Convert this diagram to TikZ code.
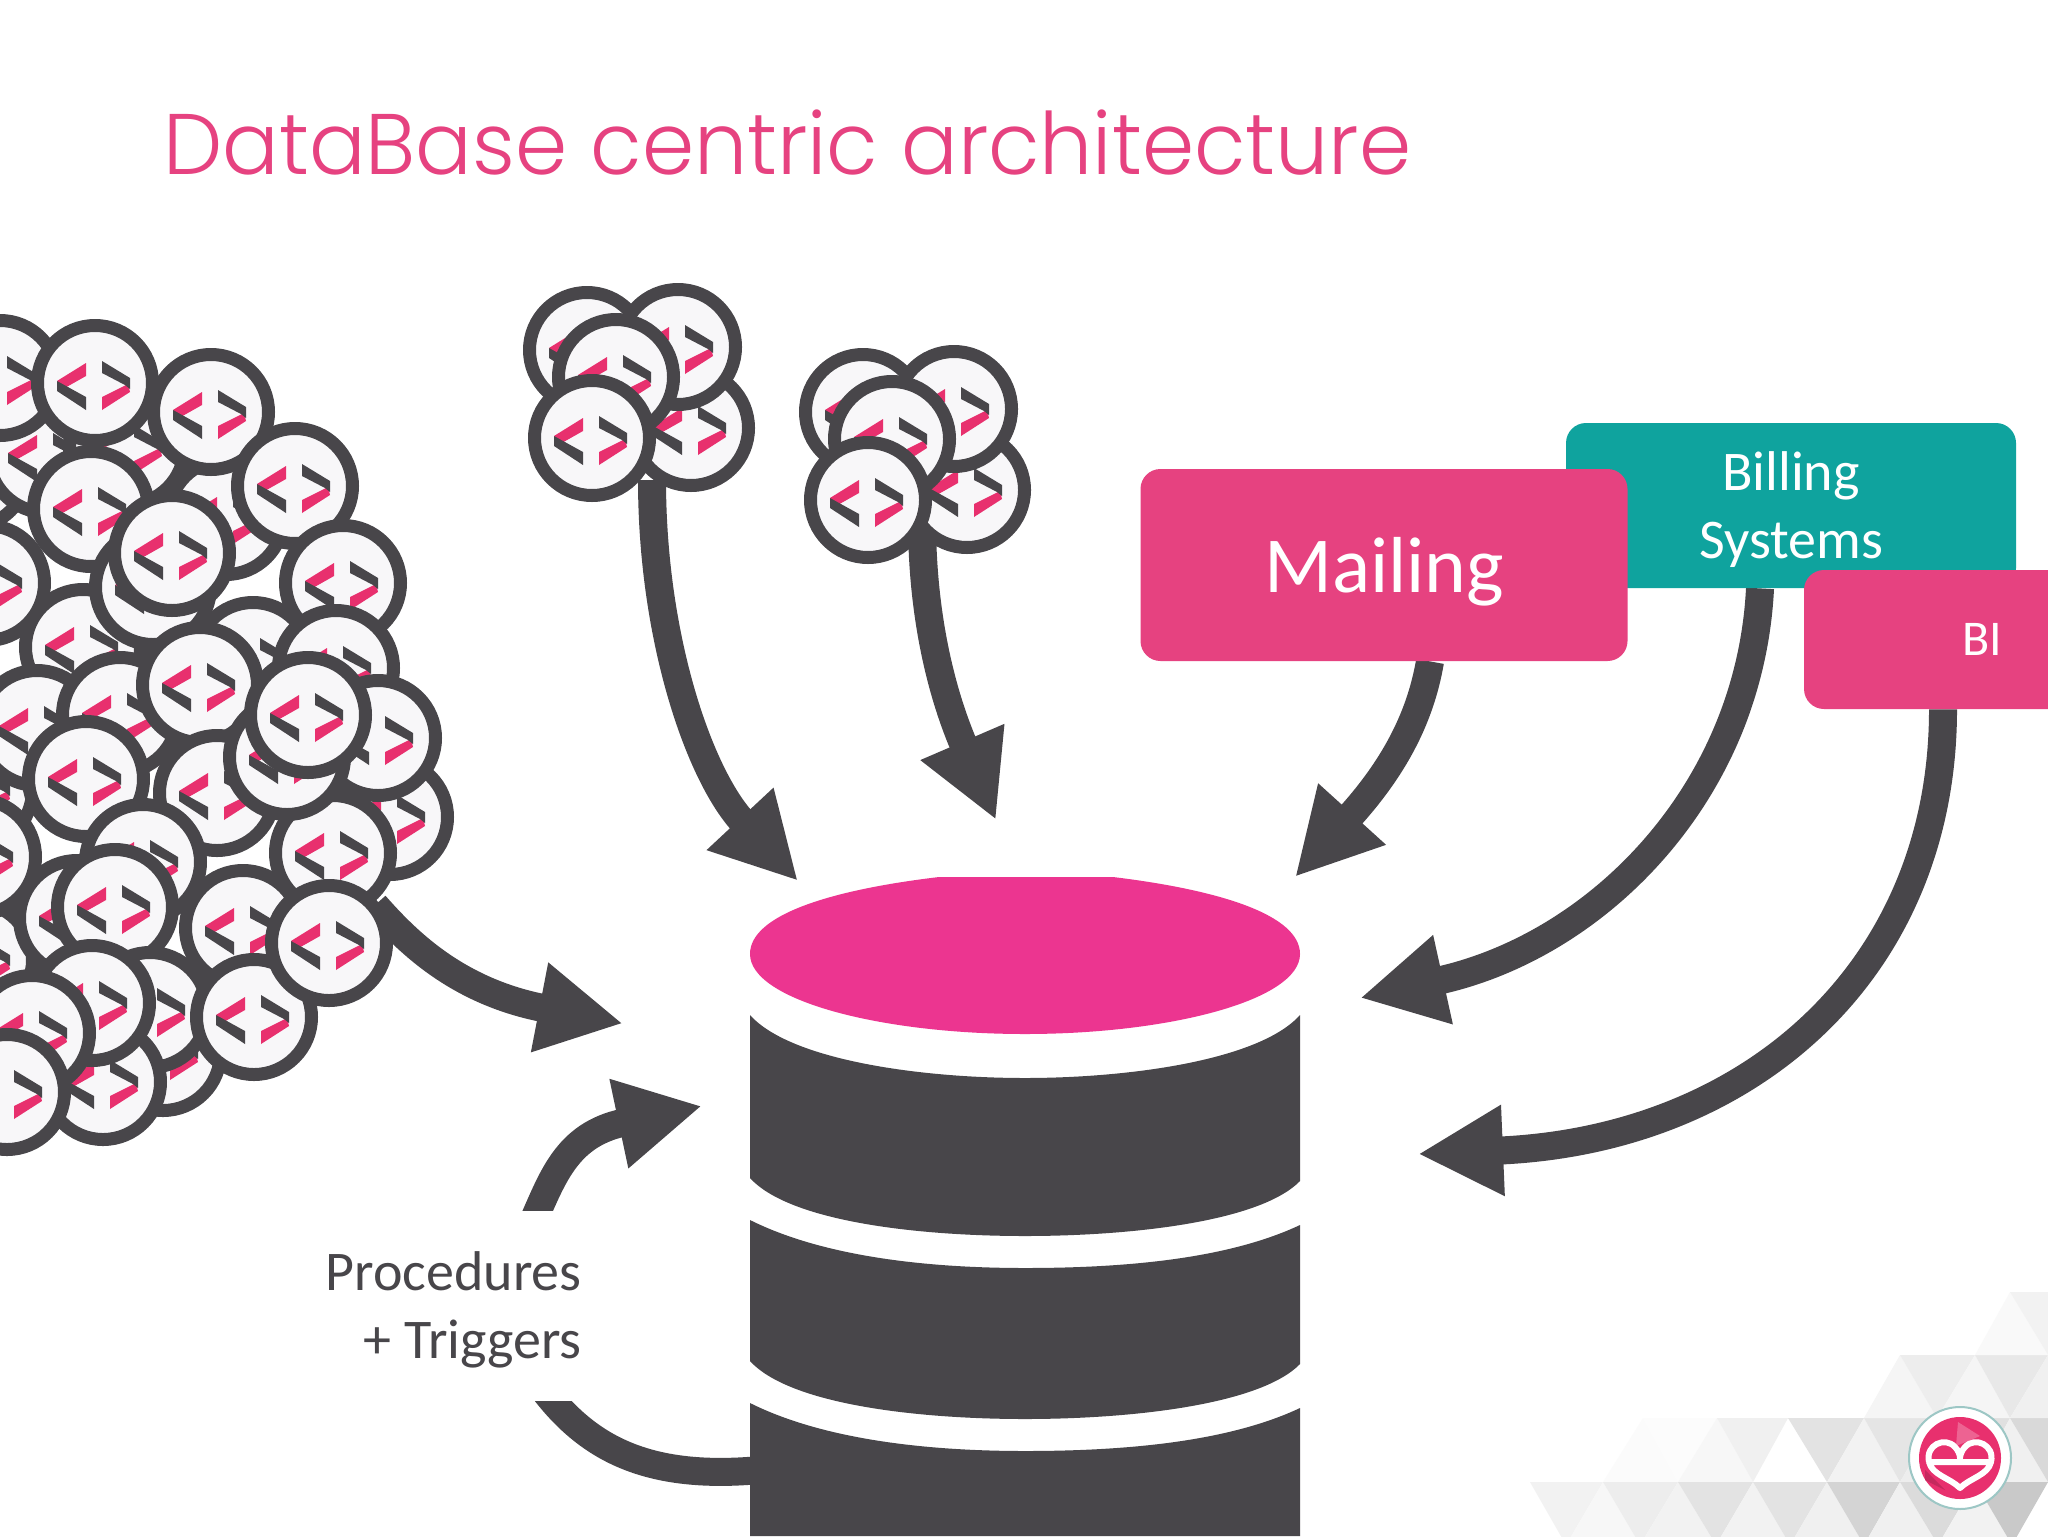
\documentclass[tikz,border=0pt]{standalone}
\usepackage{fontspec}
\setmainfont{Carlito}
\newfontfamily\titlefont[FakeStretch=0.976]{Poppins Light}
\usetikzlibrary{arrows.meta}
\definecolor{ink}{HTML}{48464A}
\definecolor{dbpink}{HTML}{EC3590}
\definecolor{boxpink}{HTML}{E64280}
\definecolor{teal}{HTML}{0FA39E}
\definecolor{codepink}{HTML}{E8306E}
\definecolor{paper}{HTML}{F8F7F9}
\pgfdeclarelayer{arrowlayer}
\pgfdeclarelayer{backdrop}
\pgfsetlayers{backdrop,arrowlayer,main}
\tikzset{
  badge/.style={circle,draw=ink,fill=paper,line width=6.5pt,minimum size=57.5pt,inner sep=0pt},
  flow/.style={draw=ink,line width=14pt,-{Triangle[length=42.5pt,width=42.5pt,fill=ink]}},
  plainflow/.style={draw=ink,line width=14pt},
  block/.style={rounded corners=10pt,text=white,inner sep=0pt,align=center},
  dbpart/.style={fill=ink},
}
\newcommand{\codebadge}[3]{%
  \node[badge] (#1) at (#2,#3) {};
  \begin{scope}[shift={(#1.center)}]
    \fill[codepink] (-38,-2)--(-9,-20)--(-9,-7)--(-32,6)--cycle;
    \fill[ink] (-38,-2)--(-38,8)--(-9,27)--(-9,14)--cycle;
    \fill[codepink] (7,14)--(33,1)--(35,9)--(7,27)--cycle;
    \fill[ink] (7,-22)--(35,-5)--(35,6)--(30,2)--(7,-10)--cycle;
  \end{scope}}
\newcommand{\facet}[4]{\fill[black!#1] #2--#3--#4--cycle;}
\begin{document}
\begin{tikzpicture}[x=0.5pt,y=-0.5pt]
\useasboundingbox (0,0) rectangle (2048,1536);
\begin{pgfonlayer}{backdrop}
\fill[white] (0,0) rectangle (2048,1536);
% faint triangles, lower right
\facet{1.5}{(1643,1418)}{(1603,1482)}{(1678,1482)}
\facet{1}{(1643,1418)}{(1717,1418)}{(1678,1482)}
\facet{3}{(1717,1418)}{(1678,1482)}{(1753,1482)}
\facet{6}{(1717,1418)}{(1788,1418)}{(1753,1482)}
\facet{11}{(1788,1418)}{(1864,1418)}{(1827,1482)}
\facet{5}{(1864,1418)}{(1827,1482)}{(1900,1482)}
\facet{10}{(1864,1418)}{(1937,1418)}{(1900,1482)}
\facet{7}{(1937,1418)}{(1900,1482)}{(1975,1482)}
\facet{12}{(1937,1418)}{(2010,1418)}{(1975,1482)}
\facet{6}{(2010,1418)}{(1975,1482)}{(2048,1482)}
\facet{15}{(2010,1418)}{(2048,1418)}{(2048,1482)}
\facet{4}{(1900,1355)}{(1864,1418)}{(1937,1418)}
\facet{7}{(1900,1355)}{(1975,1355)}{(1937,1418)}
\facet{4}{(1975,1355)}{(1937,1418)}{(2010,1418)}
\facet{9}{(1975,1355)}{(2048,1355)}{(2010,1418)}
\facet{6}{(2048,1355)}{(2010,1418)}{(2048,1418)}
\facet{2.5}{(2010,1292)}{(1975,1355)}{(2048,1355)}
\facet{5}{(2048,1292)}{(2010,1292)}{(2048,1355)}
\facet{5}{(1530,1482)}{(1603,1482)}{(1566,1545)}
\facet{3}{(1603,1482)}{(1566,1545)}{(1640,1545)}
\facet{7}{(1603,1482)}{(1678,1482)}{(1640,1545)}
\facet{5}{(1678,1482)}{(1640,1545)}{(1716,1545)}
\facet{11}{(1678,1482)}{(1753,1482)}{(1716,1545)}
\facet{5}{(1753,1482)}{(1716,1545)}{(1790,1545)}
\facet{11}{(1753,1482)}{(1827,1482)}{(1790,1545)}
\facet{6}{(1827,1482)}{(1790,1545)}{(1864,1545)}
\facet{17}{(1827,1482)}{(1900,1482)}{(1864,1545)}
\facet{6}{(1900,1482)}{(1864,1545)}{(1938,1545)}
\facet{14}{(1900,1482)}{(1975,1482)}{(1938,1545)}
\facet{5}{(1975,1482)}{(1938,1545)}{(2012,1545)}
\facet{21}{(1975,1482)}{(2048,1482)}{(2012,1545)}
\end{pgfonlayer}

% title
\node[anchor=base west,text=boxpink,inner sep=0pt,font=\titlefont\fontsize{43}{50}\selectfont] (title) at (163,174) {DataBase centric architecture};

% large cluster of code badges
\codebadge{xa}{-30}{470}
\codebadge{xb}{-25}{790}
\codebadge{xc}{-25}{960}
\codebadge{ba}{46}{455}
\codebadge{bb}{127}{447}
\codebadge{bc}{226}{517}
\codebadge{bd}{211}{412}
\codebadge{be}{0}{378}
\codebadge{bf}{91}{509}
\codebadge{bg}{95}{383}
\codebadge{bh}{295}{486}
\codebadge{bi}{343}{583}
\codebadge{bj}{83}{647}
\codebadge{bk}{-13}{583}
\codebadge{bl}{153}{587}
\codebadge{bm}{172}{553}
\codebadge{bn}{37}{728}
\codebadge{bo}{120}{715}
\codebadge{bp}{253}{660}
\codebadge{bq}{336}{668}
\codebadge{br}{390}{817}
\codebadge{bs}{378}{738}
\codebadge{bt}{77}{918}
\codebadge{bu}{-22}{857}
\codebadge{bv}{86}{779}
\codebadge{bw}{200}{685}
\codebadge{bx}{217}{793}
\codebadge{by}{143}{862}
\codebadge{bz}{333}{853}
\codebadge{ca}{287}{757}
\codebadge{cb}{308}{715}
\codebadge{cc}{243}{928}
\codebadge{cd}{163}{1053}
\codebadge{ce}{115}{907}
\codebadge{cf}{150}{1010}
\codebadge{cg}{254}{1017}
\codebadge{ch}{103}{1082}
\codebadge{ci}{92}{1003}
\codebadge{cj}{32}{1033}
\codebadge{ck}{7}{1092}
\codebadge{cl}{329}{943}

% first small cluster
\codebadge{pa}{587}{350}
\codebadge{pb}{691}{428}
\codebadge{pc}{678}{347}
\codebadge{pd}{616}{377}
\codebadge{pe}{592}{438}
% second small cluster
\codebadge{qa}{863}{412}
\codebadge{qb}{967}{490}
\codebadge{qc}{954}{409}
\codebadge{qd}{892}{439}
\codebadge{qe}{868}{500}

% application boxes
\node[block,fill=teal,minimum width=225pt,minimum height=82.5pt,text depth=0pt,font=\fontsize{28}{34}\selectfont] (billing) at (1791,505.5) {Billing\\Systems};
\node[block,fill=boxpink,minimum width=243.5pt,minimum height=96pt,text depth=0pt,font=\fontsize{39.7}{46}\selectfont] (mailing) at (1384,565) {Mailing};
\node[block,fill=boxpink,minimum width=178pt,minimum height=69.5pt,font=\fontsize{25}{30}\selectfont] (bibox) at (1982,639.5) {BI};

% database
\fill[dbpink] (750,954) .. controls (750,915) and (830,890) .. (939,877) -- (1113,877) .. controls (1220,890) and (1300,915) .. (1300,954) .. controls (1300,1000) and (1170,1034) .. (1025,1034) .. controls (880,1034) and (750,1000) .. (750,954) -- cycle;
\fill[dbpart] (750,1015) .. controls (790,1060) and (920,1078) .. (1025,1078) .. controls (1130,1078) and (1260,1060) .. (1300,1015) -- (1300,1181) .. controls (1260,1222) and (1130,1236) .. (1025,1236) .. controls (920,1236) and (790,1222) .. (750,1178) -- cycle;
\fill[dbpart] (750,1220) .. controls (820,1255) and (920,1268) .. (1025,1268) .. controls (1130,1268) and (1230,1258) .. (1300,1225) -- (1300,1364) .. controls (1260,1405) and (1130,1419) .. (1025,1419) .. controls (920,1419) and (790,1405) .. (750,1361) -- cycle;
\fill[dbpart] (750,1403) .. controls (820,1438) and (920,1451) .. (1025,1451) .. controls (1130,1451) and (1230,1441) .. (1300,1408) -- (1300,1536) -- (750,1536) -- cycle;

% procedures label
\node[anchor=base east,text=ink,inner sep=0pt,align=right,font=\fontsize{28}{34}\selectfont] (procs) at (582,1358) {Procedures\\+ Triggers};

% free ends of the arrows
\coordinate (tipa) at (798,881);
\coordinate (tipb) at (996,820);
\coordinate (tipc) at (1295,877);
\coordinate (tipd) at (1360,998);
\coordinate (tipe) at (1418,1154);
\coordinate (tipf) at (623,1023.5);
\coordinate (tipg) at (702,1106);
\coordinate (procup) at (531,1226);
\coordinate (procdown) at (544,1390);
\coordinate (dbside) at (760,1470);

\begin{pgfonlayer}{arrowlayer}
\path[flow] ([xshift=30pt,yshift=-21pt]pe.center) .. controls (652,640) and (700,776) .. (tipa);
\path[flow] ([xshift=27pt,yshift=-10pt]qe.center) .. controls (922,620) and (943,697) .. (tipb);
\path[flow] ([xshift=23pt]mailing.south) .. controls (1420,720) and (1392,770) .. (tipc);
\path[flow] ([xshift=-15.5pt]billing.south) .. controls (1750,790) and (1600,945) .. (tipd);
\path[flow] ([xshift=-19.5pt]bibox.south) .. controls (1943,970) and (1750,1140) .. (tipe);
\path[flow] ([xshift=23pt,yshift=19pt]cl.center) .. controls (410,945) and (460,992) .. (tipf);
\begin{scope}
  \clip (400,0) rectangle (800,1210.5);
  \path[flow] (procup) .. controls (552,1180) and (565,1135) .. (tipg);
\end{scope}
\begin{scope}
  \clip (400,1401) rectangle (800,1536);
  \path[plainflow] (procdown) .. controls (590,1450) and (650,1480) .. (dbside);
\end{scope}
\end{pgfonlayer}

% logo, lower right
\fill[white] (1960,1458) circle (51);
\draw[black!30!teal!40,line width=1pt] (1960,1458) circle (51);
\fill[codepink] (1960,1458) circle (41);
\fill[white,opacity=.25] (1958,1422)--(1980,1436)--(1956,1446)--cycle;
\fill[black!15!codepink] (1925,1470)--(1945,1490)--(1925,1480)--cycle;
\draw[white,line width=3pt,line join=round] (1929,1462) .. controls (1925,1445) and (1945,1436) .. (1955,1447) .. controls (1958,1450) and (1960,1455) .. (1960,1458) .. controls (1960,1455) and (1962,1450) .. (1965,1447) .. controls (1975,1436) and (1995,1445) .. (1991,1462) .. controls (1988,1475) and (1970,1478) .. (1960,1488) .. controls (1950,1478) and (1932,1475) .. (1929,1462) -- (1991,1462);
\end{tikzpicture}
\end{document}
